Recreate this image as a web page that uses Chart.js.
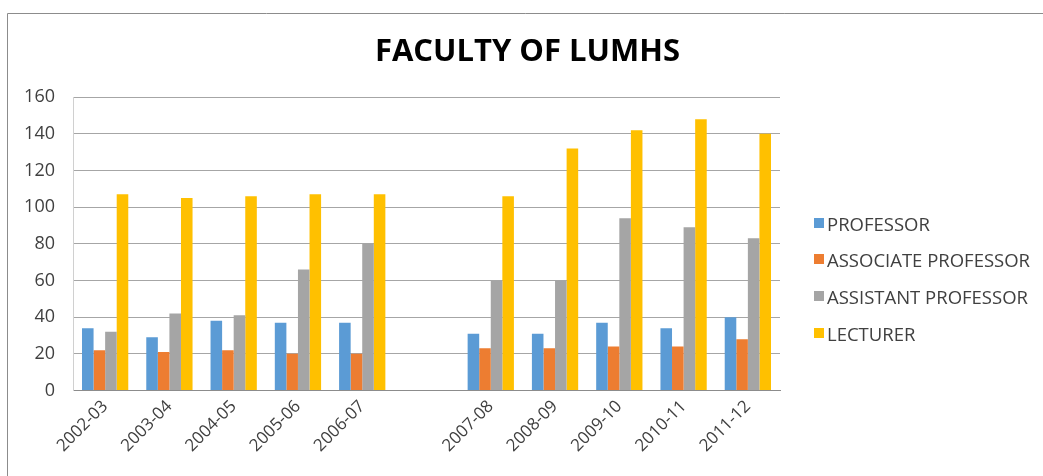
<!DOCTYPE html>
<html>
<head>
<meta charset="utf-8">
<script src="https://cdn.jsdelivr.net/npm/chart.js@4"></script>
<style>
    html, body { margin: 0; padding: 0; background: #ffffff; }
    #wrap { width: 1043px; height: 476px; position: relative; }
    #legend { position: absolute; left: 814px; top: 0; margin: 0; padding: 0; list-style: none;
              font-family: 'Open Sans', 'Liberation Sans', sans-serif; font-size: 18.5px; color: #404040; }
    #legend li { position: absolute; left: 0; display: flex; align-items: center; white-space: nowrap; height: 24px; }
    #legend .box { width: 10px; height: 10px; margin-right: 3px; flex: none; }
</style>
</head>
<body>
<div id="wrap">
    <canvas id="facultyChart" width="1043" height="476"></canvas>
    <ul id="legend"></ul>
</div>
<script>
// Years (blank slot keeps the gap between 2006-07 and 2007-08)
const years = ['2002-03', '2003-04', '2004-05', '2005-06', '2006-07', '', '2007-08', '2008-09', '2009-10', '2010-11', '2011-12'];

const professor = [34, 29, 38, 37, 37, null, 31, 31, 37, 34, 40];
const associateProfessor = [22, 21, 22, 20, 20, null, 23, 23, 24, 24, 28];
const assistantProfessor = [32, 42, 41, 66, 80, null, 60, 60, 94, 89, 83];
const lecturer = [107, 105, 106, 107, 107, null, 106, 132, 142, 148, 140];

const yTicks = [0, 20, 40, 60, 80, 100, 120, 140, 160];

const FONT = "'Open Sans', 'Liberation Sans', sans-serif";

// thin frame round the chart, like the spreadsheet chart box
const framePlugin = {
    id: 'frame',
    beforeDraw(chart) {
        const ctx = chart.ctx;
        ctx.save();
        ctx.strokeStyle = '#8c8c8c';
        ctx.lineWidth = 1;
        ctx.beginPath();
        ctx.moveTo(7.5, chart.height);
        ctx.lineTo(7.5, 13.5);
        ctx.lineTo(chart.width, 13.5);
        ctx.stroke();
        ctx.restore();
    }
};

const ctx = document.getElementById('facultyChart').getContext('2d');
const chart = new Chart(ctx, {
    type: 'bar',
    data: {
        labels: years,
        datasets: [
            { label: 'PROFESSOR', data: professor, backgroundColor: '#5b9bd5' },
            { label: 'ASSOCIATE PROFESSOR', data: associateProfessor, backgroundColor: '#ed7d31' },
            { label: 'ASSISTANT PROFESSOR', data: assistantProfessor, backgroundColor: '#a5a5a5' },
            { label: 'LECTURER', data: lecturer, backgroundColor: '#ffc000' }
        ]
    },
    options: {
        responsive: false,
        animation: false,
        devicePixelRatio: 1,
        datasets: {
            bar: { categoryPercentage: 0.72, barPercentage: 1.0 }
        },
        layout: {
            padding: { left: 20, right: 8, top: 0, bottom: 14 }
        },
        plugins: {
            title: {
                display: true,
                text: 'FACULTY OF LUMHS',
                color: '#000000',
                font: { family: FONT, size: 31, weight: 'bold' },
                padding: { top: 34, bottom: 26 }
            },
            legend: { display: false },
            tooltip: { enabled: false }
        },
        scales: {
            x: {
                grid: { display: false, drawTicks: false },
                border: { color: '#8c8c8c' },
                ticks: {
                    color: '#404040',
                    font: { family: FONT, size: 17 },
                    maxRotation: 45,
                    minRotation: 45,
                    autoSkip: false,
                    padding: 6
                }
            },
            y: {
                min: 0,
                max: 160,
                afterBuildTicks: axis => { axis.ticks = yTicks.map(v => ({ value: v })); },
                afterFit: axis => { axis.width = 53; },
                grid: { color: '#a6a6a6', drawTicks: false },
                border: { color: '#d0d0d0' },
                ticks: {
                    color: '#404040',
                    font: { family: FONT, size: 18 },
                    padding: 18
                }
            },
            // empty axis on the right that keeps room for the legend
            legendSpace: {
                type: 'linear',
                position: 'right',
                afterFit: axis => { axis.width = 255; },
                grid: { display: false, drawTicks: false },
                border: { display: false },
                ticks: { display: false }
            }
        }
    },
    plugins: [framePlugin]
});

// Legend on the right, built from the datasets
const legendTops = [223, 259, 296, 333];
const legendEl = document.getElementById('legend');
legendEl.innerHTML = chart.data.datasets.map((ds, i) => `
    <li style="top:${legendTops[i] - 12}px">
        <span class="box" style="background:${ds.backgroundColor}"></span>
        <span>${ds.label}</span>
    </li>
`).join('');
</script>
</body>
</html>
